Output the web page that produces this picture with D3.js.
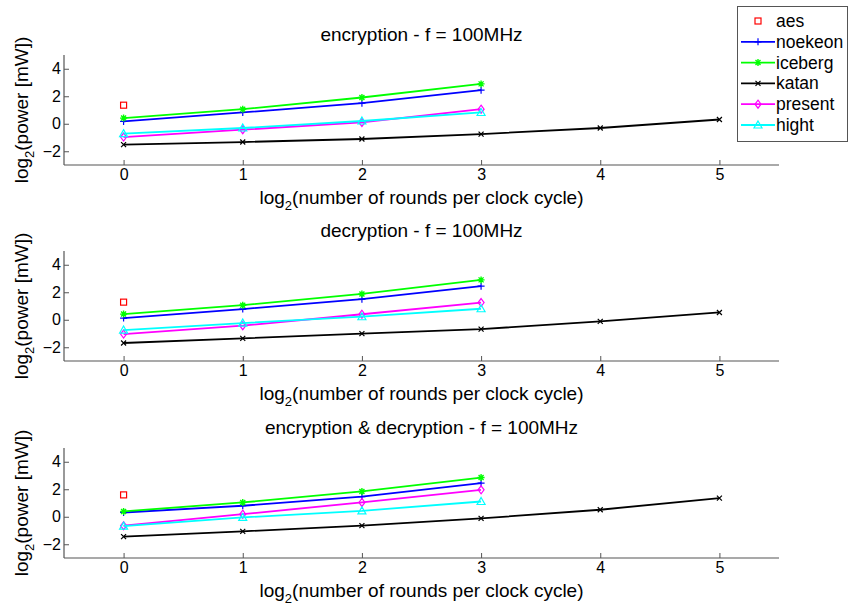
<!DOCTYPE html>
<html>
<head>
<meta charset="utf-8">
<script src="https://cdn.jsdelivr.net/npm/d3@7"></script>
<style>
  body { margin: 0; background: #fff; }
  text { font-family: "Liberation Sans", Arial, sans-serif; fill: #000; }
</style>
</head>
<body>
<div id="chart"></div>
<script>
// x values: log2(rounds per clock cycle)
const rounds = [0, 1, 2, 3];
const roundsKatan = [0, 1, 2, 3, 4, 5];
const xTicks = [0, 1, 2, 3, 4, 5];
const yTicks = [-2, 0, 2, 4];

const titles = [
  "encryption - f = 100MHz",
  "decryption - f = 100MHz",
  "encryption & decryption - f = 100MHz"
];

// log2(power [mW]) per panel
const aes      = [1.35, 1.28, 1.59];
const noekeon  = [[0.17, 0.82, 1.50, 2.44], [0.12, 0.78, 1.50, 2.44], [0.31, 0.80, 1.47, 2.44]];
const iceberg  = [[0.41, 1.06, 1.91, 2.90], [0.41, 1.06, 1.88, 2.90], [0.39, 1.04, 1.84, 2.85]];
const katan    = [[-1.52, -1.33, -1.11, -0.75, -0.31, 0.31],
                  [-1.69, -1.35, -1.01, -0.68, -0.12, 0.53],
                  [-1.45, -1.06, -0.65, -0.12, 0.51, 1.36]];
const present  = [[-0.97, -0.43, 0.10, 1.06], [-1.04, -0.43, 0.40, 1.25], [-0.65, 0.19, 1.04, 1.96]];
const hight    = [[-0.72, -0.31, 0.20, 0.82], [-0.75, -0.24, 0.22, 0.80], [-0.68, -0.05, 0.43, 1.11]];

const seriesInfo = [
  { name: "noekeon", color: "#0000ff", marker: "plus" },
  { name: "iceberg", color: "#00ff00", marker: "star" },
  { name: "katan",   color: "#000000", marker: "cross" },
  { name: "present", color: "#ff00ff", marker: "diamond" },
  { name: "hight",   color: "#00ffff", marker: "triangle" }
];

const width = 849, height = 610;
const svg = d3.select("#chart").append("svg")
  .attr("width", width).attr("height", height);

const x = d3.scaleLinear().domain([-0.5, 5.5]).range([64, 779]);
const panelTop = [55, 251, 448];
const panelH = 110;

function drawMarker(g, type, cx, cy, color) {
  const s = 3.5;
  if (type === "plus") {
    g.append("path").attr("d", `M${cx - s},${cy}H${cx + s}M${cx},${cy - s}V${cy + s}`)
      .attr("stroke", color).attr("stroke-width", 1.2).attr("fill", "none");
  } else if (type === "cross") {
    const t = 2.5;
    g.append("path").attr("d", `M${cx - t},${cy - t}L${cx + t},${cy + t}M${cx - t},${cy + t}L${cx + t},${cy - t}`)
      .attr("stroke", color).attr("stroke-width", 1.2).attr("fill", "none");
  } else if (type === "star") {
    const t = 2.5;
    g.append("path").attr("d", `M${cx - s},${cy}H${cx + s}M${cx},${cy - s}V${cy + s}M${cx - t},${cy - t}L${cx + t},${cy + t}M${cx - t},${cy + t}L${cx + t},${cy - t}`)
      .attr("stroke", color).attr("stroke-width", 1.4).attr("fill", "none");
  } else if (type === "diamond") {
    g.append("path").attr("d", `M${cx},${cy - 4}L${cx + 3},${cy}L${cx},${cy + 4}L${cx - 3},${cy}Z`)
      .attr("stroke", color).attr("stroke-width", 1.2).attr("fill", "none");
  } else if (type === "triangle") {
    g.append("path").attr("d", `M${cx},${cy - 4}L${cx + 4},${cy + 3}L${cx - 4},${cy + 3}Z`)
      .attr("stroke", color).attr("stroke-width", 1.2).attr("fill", "none");
  } else if (type === "square") {
    g.append("rect").attr("x", cx - 3).attr("y", cy - 3).attr("width", 6).attr("height", 6)
      .attr("stroke", color).attr("stroke-width", 1.2).attr("fill", "none");
  }
}

titles.forEach((title, p) => {
  const top = panelTop[p];
  const y = d3.scaleLinear().domain([-3, 5]).range([top + panelH, top]);
  const g = svg.append("g");

  // axes
  const xAxis = g.append("g")
    .attr("transform", `translate(0,${top + panelH})`)
    .call(d3.axisBottom(x).tickValues(xTicks).tickSize(-5).tickPadding(4).tickFormat(d3.format("d")));
  const yAxis = g.append("g")
    .attr("transform", `translate(64,0)`)
    .call(d3.axisLeft(y).tickValues(yTicks).tickSize(-5).tickPadding(3).tickFormat(d3.format("d")));
  [xAxis, yAxis].forEach(a => {
    a.select(".domain").attr("stroke", "#555").attr("stroke-width", 1.2);
    a.selectAll(".tick line").attr("stroke", "#555");
    a.selectAll(".tick text").style("font-size", "16px").style("font-family", "Liberation Sans, Arial, sans-serif").attr("fill", "#000");
  });
  yAxis.select(".domain").attr("d", `M0,${top + panelH}V${top}`);
  xAxis.select(".domain").attr("d", `M64,0H779`);

  // title
  g.append("text").attr("x", (64 + 779) / 2).attr("y", top - 14)
    .attr("text-anchor", "middle").style("font-size", "19px").text(title);

  // x label
  const xl = g.append("text").attr("x", (64 + 779) / 2).attr("y", top + panelH + 39)
    .attr("text-anchor", "middle").style("font-size", "19px");
  xl.append("tspan").text("log");
  xl.append("tspan").attr("dy", 6).style("font-size", "13px").text("2");
  xl.append("tspan").attr("dy", -6).text("(number of rounds per clock cycle)");

  // y label
  const yl = g.append("text")
    .attr("transform", `translate(28,${top + panelH / 2}) rotate(-90)`)
    .attr("text-anchor", "middle").style("font-size", "19px");
  yl.append("tspan").text("log");
  yl.append("tspan").attr("dy", 6).style("font-size", "13px").text("2");
  yl.append("tspan").attr("dy", -6).text("(power [mW])");

  const line = d3.line().x(d => x(d[0])).y(d => y(d[1]));
  const seriesData = [noekeon[p], iceberg[p], katan[p], present[p], hight[p]];
  // draw order: aes, noekeon, iceberg, katan, present, hight
  drawMarker(g, "square", x(0), y(aes[p]), "#ff0000");
  seriesInfo.forEach((s, i) => {
    const xs = s.name === "katan" ? roundsKatan : rounds;
    const pts = xs.map((xv, k) => [xv, seriesData[i][k]]);
    g.append("path").datum(pts).attr("d", line)
      .attr("fill", "none").attr("stroke", s.color).attr("stroke-width", 1.8);
    pts.forEach(d => drawMarker(g, s.marker, x(d[0]), y(d[1]), s.color));
  });
});

// legend
const lg = svg.append("g");
lg.append("rect").attr("x", 737.5).attr("y", 6.5).attr("width", 110).attr("height", 135)
  .attr("fill", "#fff").attr("stroke", "#555");
const legendItems = [{ name: "aes", color: "#ff0000", marker: "square" }].concat(seriesInfo);
legendItems.forEach((s, i) => {
  const cy = 21 + i * 20.8;
  if (s.name !== "aes") {
    lg.append("line").attr("x1", 741).attr("x2", 775).attr("y1", cy).attr("y2", cy)
      .attr("stroke", s.color).attr("stroke-width", 1.8);
  }
  drawMarker(lg, s.marker, 758, cy, s.color);
  lg.append("text").attr("x", 776).attr("y", cy + 6)
    .style("font-size", "17.5px").text(s.name);
});
</script>
</body>
</html>
